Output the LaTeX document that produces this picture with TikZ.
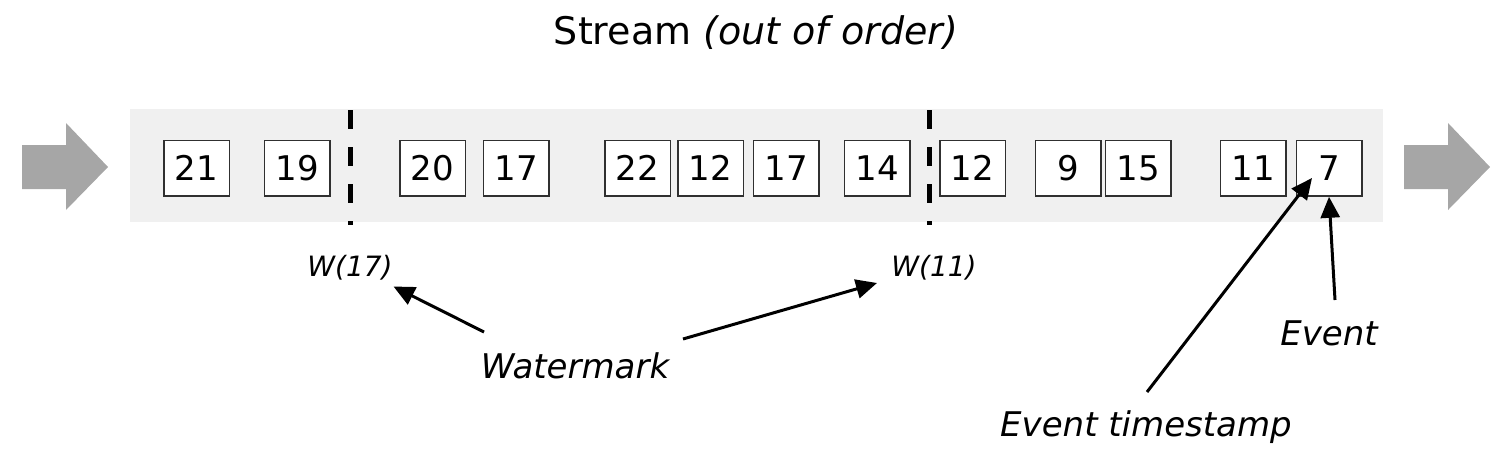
\documentclass[tikz,border=0pt]{standalone}
\usepackage{fontspec}
\setmainfont{DejaVu Sans}
\usetikzlibrary{arrows.meta}
\definecolor{band}{HTML}{F0F0F0}
\definecolor{bigarrow}{HTML}{A6A6A6}
\definecolor{boxline}{HTML}{303030}
\tikzset{
  evbox/.style={draw=boxline, line width=1.5pt, fill=white, minimum width=65.5pt, minimum height=55.5pt, inner sep=0pt, font=\fontsize{34}{36}\selectfont},
  wmline/.style={line width=5pt, dash pattern=on 19pt off 18pt},
  lbl/.style={font=\fontsize{34}{36}\selectfont\itshape, inner sep=0pt},
  wlbl/.style={font=\fontsize{28}{30}\selectfont\itshape, inner sep=0pt},
  arr/.style={line width=3pt, -{Triangle[length=21pt,width=19pt]}},
}
\begin{document}
\begin{tikzpicture}[x=1pt,y=-1pt]
\useasboundingbox (0,0) rectangle (1506,452);
% band
\fill[band] (130,109) rectangle (1383,222);
% big arrows
\fill[bigarrow] (22,145) -- (66,145) -- (66,123) -- (108,167) -- (66,210) -- (66,189) -- (22,189) -- cycle;
\fill[bigarrow] (1404,145) -- (1448,145) -- (1448,123) -- (1490,167) -- (1448,210) -- (1448,189) -- (1404,189) -- cycle;
% title
\node[inner sep=0pt, font=\fontsize{38}{42}\selectfont] (title) at (756,33) {Stream \textit{(out of order)}};
% events
\node[evbox] (b1) at (196.5,168.3) {21};
\node[evbox] (b2) at (297.3,168.3) {19};
\node[evbox] (b3) at (432.5,168.3) {20};
\node[evbox] (b4) at (516,168.3) {17};
\node[evbox] (b5) at (637.5,168.3) {22};
\node[evbox] (b6) at (710.5,168.3) {12};
\node[evbox] (b7) at (786,168.3) {17};
\node[evbox] (b8) at (877,168.3) {14};
\node[evbox] (b9) at (972.5,168.3) {12};
\node[evbox] (b10) at (1068,168.3) {9};
\node[evbox] (b11) at (1138,168.3) {15};
\node[evbox] (b12) at (1253,168.3) {11};
\node[evbox] (b13) at (1329,168.3) {7};
% watermark lines
\coordinate (w1top) at (350.7,110);
\coordinate (w1bot) at (350.7,225);
\coordinate (w2top) at (929,110);
\coordinate (w2bot) at (929,225);
\draw[wmline] (w1top) -- (w1bot);
\draw[wmline] (w2top) -- (w2bot);
% labels
\node[wlbl] (w17) at (350,268) {W(17)};
\node[wlbl] (w11) at (934,268) {W(11)};
\node[lbl] (wm) at (575,366) {Watermark};
\node[lbl] (ets) at (1146,427) {Event timestamp};
\node[lbl] (ev) at (1329,333) {Event};
% arrows
\coordinate (a1s) at (484,332);
\coordinate (a1e) at (393.5,286.5);
\coordinate (a2s) at (683,339);
\coordinate (a2e) at (877,283);
\coordinate (a3s) at (1147,392);
\coordinate (a3e) at (1312,178);
\coordinate (a4s) at (1335,300);
\draw[arr] (a1s) -- (a1e);
\draw[arr] (a2s) -- (a2e);
\draw[arr] (a3s) -- (a3e);
\draw[arr] (a4s) -- (b13.south);
\end{tikzpicture}
\end{document}
